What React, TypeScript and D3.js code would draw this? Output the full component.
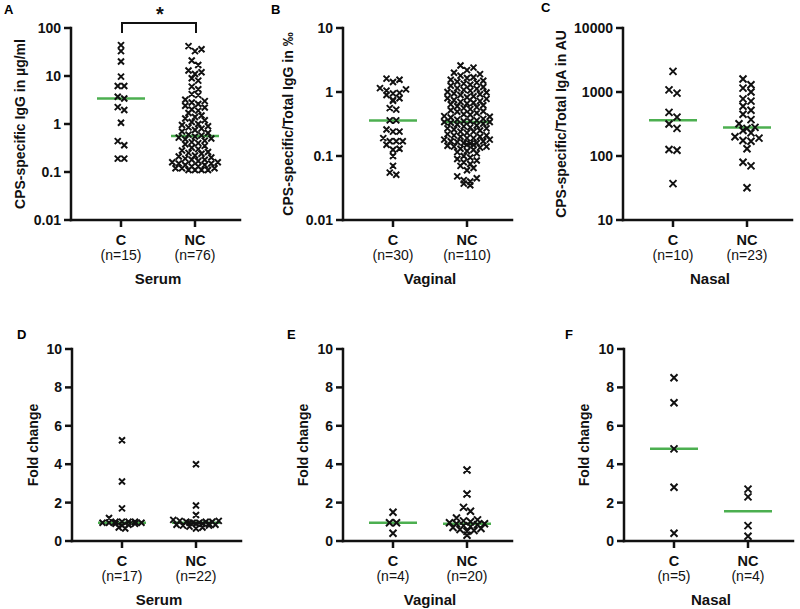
import React from "react";
import * as d3 from "d3";

const FONT = "'Liberation Sans', Arial, Helvetica, sans-serif";
const GREEN = "#4caf50";

// ---------- data ----------
const categories = ["C", "NC"];

// A: serum CPS-specific IgG (µg/ml)
const serumIgG_C = [44, 33, 20, 9.7, 6.2, 6.2, 3.4, 3.7, 2.25, 1.95, 1.06, 0.36, 0.44, 0.19, 0.19];
const serumIgG_NC = [
  42, 36, 33, 21, 17, 13, 12, 11, 9, 8, 6, 5.3, 4.2, 4.0, 3.2, 3.0, 2.8, 2.6, 2.4, 2.2,
  2.0, 1.9, 1.7, 1.5, 1.4, 1.3, 1.2, 1.1, 1.0, 0.95, 0.9, 0.85, 0.8, 0.75, 0.7, 0.65, 0.6, 0.58, 0.55, 0.52,
  0.5, 0.48, 0.45, 0.42, 0.4, 0.38, 0.35, 0.32, 0.3, 0.28, 0.26, 0.25, 0.24, 0.22, 0.21, 0.2, 0.19, 0.18, 0.18, 0.17,
  0.16, 0.16, 0.15, 0.15, 0.14, 0.14, 0.13, 0.13, 0.13, 0.12, 0.12, 0.12, 0.11, 0.11, 0.11, 0.11,
];

// B: vaginal CPS-specific/total IgG (‰)
const vaginalIgG_C = [
  1.62, 1.55, 1.43, 0.95, 0.97, 1.15, 1.1, 1.05, 0.9, 0.8, 0.73, 0.75, 0.53, 0.56, 0.36,
  0.36, 0.26, 0.24, 0.24, 0.17, 0.17, 0.17, 0.19, 0.15, 0.13, 0.125, 0.1, 0.07, 0.051, 0.055,
];
const vaginalIgG_NC = [
  2.6, 2.4, 2.2, 2.0, 1.9, 1.8, 1.7, 1.65, 1.55, 1.5,
  1.45, 1.4, 1.35, 1.3, 1.25, 1.2, 1.15, 1.12, 1.08, 1.05,
  1.0, 0.98, 0.95, 0.92, 0.9, 0.86, 0.83, 0.8, 0.78, 0.75,
  0.72, 0.7, 0.68, 0.66, 0.64, 0.62, 0.6, 0.58, 0.56, 0.54,
  0.52, 0.5, 0.49, 0.47, 0.45, 0.44, 0.42, 0.41, 0.4, 0.38,
  0.37, 0.36, 0.35, 0.35, 0.34, 0.34, 0.33, 0.32, 0.31, 0.3,
  0.29, 0.28, 0.27, 0.27, 0.26, 0.25, 0.24, 0.24, 0.23, 0.22,
  0.21, 0.21, 0.2, 0.2, 0.19, 0.19, 0.18, 0.18, 0.17, 0.17,
  0.165, 0.16, 0.16, 0.155, 0.15, 0.15, 0.145, 0.14, 0.14, 0.135,
  0.13, 0.125, 0.12, 0.115, 0.11, 0.1, 0.095, 0.09, 0.085, 0.08,
  0.075, 0.07, 0.065, 0.06, 0.048, 0.045, 0.042, 0.04, 0.037, 0.035,
];

// C: nasal CPS-specific/total IgA (AU)
const nasalIgA_C = [2100, 960, 1080, 480, 316, 405, 270, 126, 123, 37];
const nasalIgA_NC = [
  1600, 1300, 1150, 1000, 780, 720, 600, 520, 450, 370, 320, 280,
  270, 250, 230, 200, 190, 175, 170, 130, 80, 70, 32,
];

// D-F: fold change
const serumFold_C = [5.25, 3.1, 1.7, 1.2, 1.0, 1.0, 0.95, 0.95, 0.9, 0.9, 1.0, 0.85, 0.8, 0.65, 0.7, 1.0, 0.95];
const serumFold_NC = [
  4.0, 1.85, 1.35, 1.1, 1.05, 1.05, 1.0, 1.0, 1.0, 0.95, 0.95,
  0.95, 0.9, 0.9, 0.9, 0.85, 0.85, 0.8, 0.8, 0.75, 0.7, 0.65,
];
const vaginalFold_C = [1.5, 0.95, 0.95, 0.4];
const vaginalFold_NC = [
  3.7, 2.45, 1.75, 1.55, 1.2, 1.1, 1.05, 1.0, 0.95, 0.9,
  0.9, 0.85, 0.8, 0.75, 0.7, 0.65, 0.6, 0.55, 0.5, 0.3,
];
const nasalFold_C = [8.5, 7.2, 4.8, 2.8, 0.4];
const nasalFold_NC = [2.7, 2.3, 0.8, 0.25];

const logTicksA = [0.01, 0.1, 1, 10, 100];
const logTicksB = [0.01, 0.1, 1, 10];
const logTicksC = [10, 100, 1000, 10000];
const linTicks = [0, 2, 4, 6, 8, 10];

// ---------- layout ----------
type Scale = (v: number) => number;

function swarm(values: number[], y: Scale, cx: number, binH: number, sp: number, maxRow: number) {
  const pts = values.map((v) => ({ v, y: y(v) })).sort((a, b) => a.y - b.y);
  const rows: { y0: number; items: { v: number; y: number }[] }[] = [];
  let cur: any = null;
  for (const p of pts) {
    if (!cur || p.y - cur.y0 >= binH) {
      cur = { y0: p.y, items: [] };
      rows.push(cur);
    }
    cur.items.push(p);
  }
  const out: { x: number; y: number }[] = [];
  rows.forEach((r) => {
    const chunks: { v: number; y: number }[][] = [];
    for (let i = 0; i < r.items.length; i += maxRow) chunks.push(r.items.slice(i, i + maxRow));
    chunks.forEach((ch, k) => {
      const n = ch.length;
      const shift = k % 2 === 1 ? sp / 2 : 0;
      // interleave: order items left/right alternately so they look scattered
      ch.forEach((p, i) => {
        const slot = i % 2 === 0 ? i / 2 : n - 1 - (i - 1) / 2;
        out.push({ x: cx + (slot - (n - 1) / 2) * sp + shift, y: p.y });
      });
    });
  });
  return out;
}

type PanelProps = {
  letter: string;
  letterX: number;
  letterY: number;
  x0: number;
  yTop: number;
  yBot: number;
  log: boolean;
  domain: [number, number];
  ticks: number[];
  groups: number[][];
  site: string;
  title: string;
  titleX: number;
  r: number;
  sp: number;
  binH: number;
  maxRow: number;
};

function Panel(p: PanelProps) {
  const y: Scale = p.log
    ? d3.scaleLog().domain(p.domain).range([p.yBot, p.yTop])
    : d3.scaleLinear().domain(p.domain).range([p.yBot, p.yTop]);
  const x = d3.scalePoint().domain(categories).range([p.x0 + 50, p.x0 + 124]);
  const axisEnd = p.x0 + 169;
  const fmt = (v: number) => (p.log ? d3.format("~g")(v) : String(v));
  const midY = (p.yTop + p.yBot) / 2;
  return (
    <g>
      <text x={p.letterX} y={p.letterY} fontFamily={FONT} fontWeight="bold" fontSize={13}>
        {p.letter}
      </text>
      {p.groups.map((vals, gi) => {
        const cx = x(categories[gi])!;
        const my = y(d3.median(vals)!);
        return <line key={"m" + gi} x1={cx - 24} x2={cx + 24} y1={my} y2={my} stroke={GREEN} strokeWidth={2.5} />;
      })}
      {p.groups.map((vals, gi) => {
        const cx = x(categories[gi])!;
        const pts = swarm(vals, y, cx, p.binH, p.sp, p.maxRow);
        const d = pts
          .map((q) => `M${q.x - p.r},${q.y - p.r}L${q.x + p.r},${q.y + p.r}M${q.x - p.r},${q.y + p.r}L${q.x + p.r},${q.y - p.r}`)
          .join("");
        return <path key={"p" + gi} d={d} stroke="#111" strokeWidth={2} fill="none" />;
      })}
      <line x1={p.x0} x2={p.x0} y1={p.yTop} y2={p.yBot} stroke="#111" strokeWidth={2.5} strokeLinecap="square" />
      <line x1={p.x0} x2={axisEnd} y1={p.yBot} y2={p.yBot} stroke="#111" strokeWidth={2.5} strokeLinecap="square" />
      {p.ticks.map((t) => (
        <g key={"t" + t}>
          <line x1={p.x0 - 7} x2={p.x0} y1={y(t)} y2={y(t)} stroke="#111" strokeWidth={2.5} />
          <text x={p.x0 - 10} y={y(t)} dy="0.36em" textAnchor="end" fontFamily={FONT} fontWeight="bold" fontSize={14} fill="#111">
            {fmt(t)}
          </text>
        </g>
      ))}
      {categories.map((c, gi) => (
        <g key={"c" + c}>
          <line x1={x(c)!} x2={x(c)!} y1={p.yBot} y2={p.yBot + 7} stroke="#111" strokeWidth={2.5} />
          <text x={x(c)!} y={p.yBot + 25} textAnchor="middle" fontFamily={FONT} fontWeight="bold" fontSize={14.5} fill="#111">
            {c}
          </text>
          <text x={x(c)!} y={p.yBot + 40} textAnchor="middle" fontFamily={FONT} fontSize={14} fill="#111">
            {`(n=${p.groups[gi].length})`}
          </text>
        </g>
      ))}
      <text x={(x("C")! + x("NC")!) / 2} y={p.yBot + 64} textAnchor="middle" fontFamily={FONT} fontWeight="bold" fontSize={15} fill="#111">
        {p.site}
      </text>
      <text
        transform={`translate(${p.titleX},${midY}) rotate(-90)`}
        textAnchor="middle"
        dy="0.35em"
        fontFamily={FONT}
        fontWeight="bold"
        fontSize={14}
        fill="#111"
      >
        {p.title}
      </text>
    </g>
  );
}

export default function App() {
  const top = 28;
  const bot = 220;
  const top2 = 349;
  const bot2 = 541;
  return (
    <svg width={800} height={609} viewBox="0 0 800 609" style={{ position: "absolute", left: 0, top: 0, background: "#fff" }}>
      <rect width={800} height={609} fill="#fff" />
      <Panel
        letter="A" letterX={4} letterY={14}
        x0={71} yTop={top} yBot={bot} log domain={[0.01, 100]} ticks={logTicksA}
        groups={[serumIgG_C, serumIgG_NC]} site="Serum" title="CPS-specific IgG in µg/ml" titleX={20}
        r={3} sp={6.5} binH={5.5} maxRow={8}
      />
      <path d="M122,33V23H196V33" stroke="#111" strokeWidth={2} fill="none" />
      <text x={160} y={21} textAnchor="middle" fontFamily={FONT} fontWeight="bold" fontSize={20} fill="#111">
        *
      </text>
      <Panel
        letter="B" letterX={271} letterY={14}
        x0={343} yTop={top} yBot={bot} log domain={[0.01, 10]} ticks={logTicksB}
        groups={[vaginalIgG_C, vaginalIgG_NC]} site="Vaginal" title="CPS-specific/Total IgG in ‰" titleX={288}
        r={3} sp={6.5} binH={5.5} maxRow={8}
      />
      <Panel
        letter="C" letterX={541} letterY={12}
        x0={623} yTop={top} yBot={bot} log domain={[10, 10000]} ticks={logTicksC}
        groups={[nasalIgA_C, nasalIgA_NC]} site="Nasal" title="CPS-specific/Total IgA in AU" titleX={561}
        r={3.5} sp={8} binH={6} maxRow={6}
      />
      <Panel
        letter="D" letterX={17} letterY={339}
        x0={72} yTop={top2} yBot={bot2} log={false} domain={[0, 10]} ticks={linTicks}
        groups={[serumFold_C, serumFold_NC]} site="Serum" title="Fold change" titleX={33}
        r={3} sp={6.5} binH={4} maxRow={8}
      />
      <Panel
        letter="E" letterX={287} letterY={339}
        x0={343} yTop={top2} yBot={bot2} log={false} domain={[0, 10]} ticks={linTicks}
        groups={[vaginalFold_C, vaginalFold_NC]} site="Vaginal" title="Fold change" titleX={303}
        r={3.5} sp={7} binH={4} maxRow={7}
      />
      <Panel
        letter="F" letterX={565} letterY={339}
        x0={624} yTop={top2} yBot={bot2} log={false} domain={[0, 10]} ticks={linTicks}
        groups={[nasalFold_C, nasalFold_NC]} site="Nasal" title="Fold change" titleX={584}
        r={3.5} sp={8} binH={5} maxRow={6}
      />
    </svg>
  );
}
